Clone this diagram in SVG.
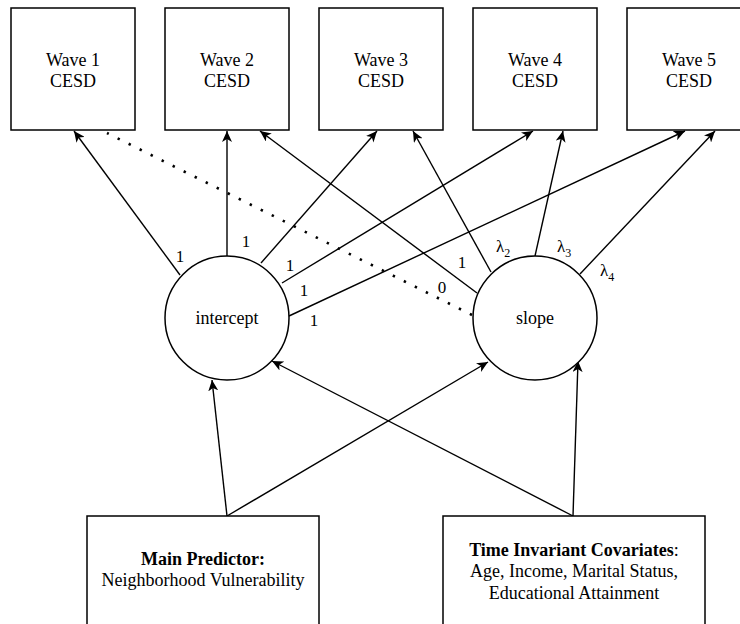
<svg xmlns="http://www.w3.org/2000/svg" width="740" height="624" viewBox="0 0 740 624" font-family="'Liberation Serif', 'Times New Roman', 'DejaVu Serif', serif">
<defs>
<marker id="arr" markerUnits="userSpaceOnUse" markerWidth="12" markerHeight="10" refX="11" refY="5" orient="auto"><path d="M0,0 L11,5 L0,10 L3,5 z" fill="#000"/></marker>
</defs>
<style>
text{font-family:'Liberation Serif','Times New Roman','DejaVu Serif',serif;font-size:18px;fill:#000;text-anchor:middle}
.box{fill:#fff;stroke:#000;stroke-width:1.5}
.c{fill:#fff;stroke:#000;stroke-width:1.5}
.l{stroke:#000;stroke-width:1.4;fill:none}
.a{marker-end:url(#arr)}
.dot{stroke:#000;stroke-width:2.6;stroke-dasharray:2.4 9.9;fill:none}
.lab{font-size:17px}
.b{font-weight:bold}
</style>
<rect width="740" height="624" fill="#fff"/>
<g id="connectors">
<line class="l a" x1="180" y1="275" x2="74" y2="131"/>
<line class="l a" x1="227" y1="256" x2="227" y2="131"/>
<line class="l a" x1="261" y1="263" x2="377" y2="131"/>
<line class="l a" x1="282" y1="283" x2="533" y2="131"/>
<line class="l a" x1="289" y1="316" x2="685" y2="131"/>
<line class="dot" x1="472" y1="315" x2="107" y2="133"/>
<line class="l a" x1="477" y1="293" x2="260" y2="131"/>
<line class="l a" x1="491" y1="272" x2="413" y2="131"/>
<line class="l a" x1="535" y1="256" x2="563" y2="131"/>
<line class="l a" x1="580" y1="274" x2="715" y2="131"/>
<line class="l a" x1="227" y1="516" x2="212" y2="380"/>
<line class="l a" x1="227" y1="516" x2="488" y2="362"/>
<line class="l a" x1="573" y1="516" x2="578" y2="361"/>
<line class="l a" x1="573" y1="516" x2="272" y2="361"/>
<text class="lab" x="180" y="262">1</text>
<text class="lab" x="246" y="247">1</text>
<text class="lab" x="290" y="271">1</text>
<text class="lab" x="304" y="296">1</text>
<text class="lab" x="314" y="326">1</text>
<text class="lab" x="462" y="268">1</text>
<text class="lab" x="442" y="293">0</text>
<text class="lab" x="503" y="252">λ<tspan font-size="12" dy="5">2</tspan></text>
<text class="lab" x="564" y="252">λ<tspan font-size="12" dy="5">3</tspan></text>
<text class="lab" x="607" y="276">λ<tspan font-size="12" dy="5">4</tspan></text>
</g>
<g id="wave1"><rect class="box" x="11" y="8" width="124" height="122"/><text x="73" y="66">Wave 1</text><text x="73" y="87">CESD</text></g>
<g id="wave2"><rect class="box" x="165" y="8" width="124" height="122"/><text x="227" y="66">Wave 2</text><text x="227" y="87">CESD</text></g>
<g id="wave3"><rect class="box" x="319" y="8" width="124" height="122"/><text x="381" y="66">Wave 3</text><text x="381" y="87">CESD</text></g>
<g id="wave4"><rect class="box" x="473" y="8" width="124" height="122"/><text x="535" y="66">Wave 4</text><text x="535" y="87">CESD</text></g>
<g id="wave5"><rect class="box" x="627" y="8" width="124" height="122"/><text x="689" y="66">Wave 5</text><text x="689" y="87">CESD</text></g>
<g id="intercept"><circle class="c" cx="227" cy="318" r="62"/><text x="227" y="324">intercept</text></g>
<g id="slope"><circle class="c" cx="535" cy="318" r="62"/><text x="535" y="324">slope</text></g>
<g id="predictor"><rect class="box" x="87" y="516" width="232" height="130"/><text x="203" y="565"><tspan class="b">Main Predictor:</tspan></text><text x="203" y="586">Neighborhood Vulnerability</text></g>
<g id="covariates"><rect class="box" x="443" y="516" width="262" height="130"/><text x="574" y="556"><tspan class="b">Time Invariant Covariates</tspan>:</text><text x="574" y="577">Age, Income, Marital Status,</text><text x="574" y="599">Educational Attainment</text></g>
</svg>
